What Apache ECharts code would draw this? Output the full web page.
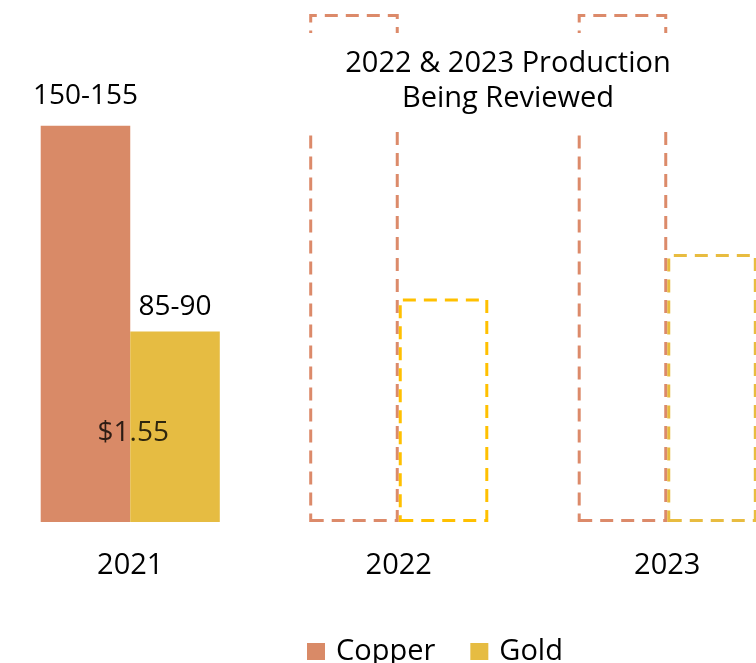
<!DOCTYPE html>
<html>
<head>
<meta charset="utf-8">
<script src="https://cdn.jsdelivr.net/npm/echarts@6/dist/echarts.min.js"></script>
<style>
  html, body { margin: 0; padding: 0; background: #fff; }
  #chart { width: 756px; height: 663px; }
</style>
</head>
<body>
<div id="chart"></div>
<script>
// 数据
const years = ['2021', '2022', '2023'];
const copperValues = [156, 200, 200];
const goldValues = [75, 88, 105.5];
const copperLabels = ['150-155', '', ''];
const goldLabels = ['85-90', '', ''];
const costValues = [35];
const costLabels = ['$1.55'];
const noteLines = ['2022 & 2023 Production', 'Being Reviewed'];

// 颜色
const colors = {
    copper: '#d98a67',
    gold: '#e6bc42',
    copperDash: '#dc8a6a',
    goldDash: ['#e6bc42', '#ffc000', '#e8bc40']
};

const font = '"Open Sans", "Noto Sans", sans-serif';

const chart = echarts.init(document.getElementById('chart'));

// 2021 实心, 之后虚线框
function barData(values, fill, dashColors) {
    return values.map((v, i) => {
        if (i === 0) {
            return { value: v, itemStyle: { color: fill } };
        }
        return {
            value: v,
            itemStyle: {
                color: 'rgba(0,0,0,0)',
                borderColor: Array.isArray(dashColors) ? dashColors[i] : dashColors,
                borderWidth: 3,
                borderType: [13, 8]
            }
        };
    });
}

const option = {
    animation: false,
    grid: {
        left: -4,
        top: 14,
        width: 805.5,
        bottom: 141,
        outerBoundsMode: 'none',
        containLabel: false
    },
    legend: {
        data: ['Copper', 'Gold'],
        left: 302,
        top: 632,
        icon: 'rect',
        itemWidth: 18,
        itemHeight: 17,
        itemGap: 35,
        textStyle: {
            fontFamily: font,
            fontSize: 29,
            color: '#000',
            padding: [0, 0, 0, 6]
        }
    },
    xAxis: {
        type: 'category',
        data: years,
        axisLine: { show: false },
        axisTick: { show: false },
        axisLabel: {
            margin: 29,
            fontFamily: font,
            fontSize: 29,
            color: '#000'
        }
    },
    yAxis: {
        type: 'value',
        min: 0,
        max: 200,
        show: false,
        splitLine: { show: false }
    },
    series: [
        {
            name: 'Copper',
            type: 'bar',
            barGap: 0,
            barCategoryGap: '33.3%',
            itemStyle: { color: colors.copper },
            data: barData(copperValues, colors.copper, colors.copperDash),
            label: {
                show: true,
                position: 'top',
                distance: 16,
                fontFamily: font,
                fontSize: 28,
                color: '#000',
                formatter: (p) => copperLabels[p.dataIndex]
            }
        },
        {
            name: 'Gold',
            type: 'bar',
            itemStyle: { color: colors.gold },
            data: barData(goldValues, colors.gold, colors.goldDash),
            label: {
                show: true,
                position: 'top',
                distance: 10,
                fontFamily: font,
                fontSize: 28,
                color: '#000',
                formatter: (p) => goldLabels[p.dataIndex]
            }
        },
        {
            name: 'Cost',
            type: 'scatter',
            symbolSize: 0,
            z: 5,
            data: costValues.map((v, i) => [years[i], v]),
            label: {
                show: true,
                position: 'inside',
                offset: [3, 0],
                fontFamily: font,
                fontSize: 28,
                color: '#000',
                formatter: (p) => costLabels[p.dataIndex]
            }
        }
    ],
    graphic: [
        {
            type: 'text',
            zlevel: 1,
            z: 100,
            x: 508,
            y: 81,
            style: {
                text: noteLines.join('\n'),
                align: 'center',
                verticalAlign: 'middle',
                lineHeight: 35,
                font: '29px ' + font,
                fill: '#000',
                backgroundColor: '#fff',
                padding: [13, 48, 13, 48]
            }
        }
    ]
};

chart.setOption(option);

window.addEventListener('resize', () => chart.resize());
</script>
</body>
</html>
